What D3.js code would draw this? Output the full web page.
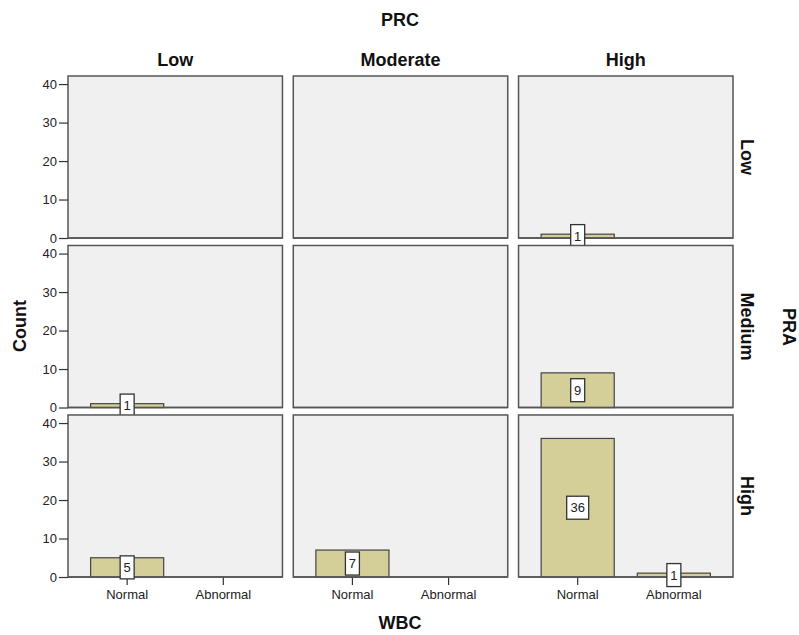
<!DOCTYPE html>
<html><head><meta charset="utf-8">
<script src="https://cdn.jsdelivr.net/npm/d3@7"></script>
<style>
body{margin:0;background:#fff;}
text{font-family:"Liberation Sans",Arial,sans-serif;}
</style></head>
<body>
<svg id="chart" width="799" height="635"></svg>
<script>
const colCats = ["Low","Moderate","High"];      // PRC
const rowCats = ["Low","Medium","High"];        // PRA
const wbcCats = ["Normal","Abnormal"];          // WBC
// counts[row][col] = [Normal, Abnormal]
const countsLowPRA    = [[0,0],[0,0],[1,0]];
const countsMediumPRA = [[1,0],[0,0],[9,0]];
const countsHighPRA   = [[5,0],[7,0],[36,1]];
const counts = [countsLowPRA, countsMediumPRA, countsHighPRA];
const yTicks = [0,10,20,30,40];

const svg = d3.select("#chart");
const colScale = d3.scaleBand().domain(colCats).range([68,733]).paddingInner(0.048);
const rowScale = d3.scaleBand().domain(rowCats).range([76,577]).paddingInner(0.044);
const pw = colScale.bandwidth(), ph = rowScale.bandwidth();
const xScale = d3.scaleBand().domain(wbcCats).range([0,pw]).paddingInner(0.24).paddingOuter(0.235);
const yScale = d3.scaleLinear().domain([0,42.1]).range([ph,0]);

const barFill = "#d4cf99", dark = "#444";
const FONT = "'Liberation Sans',Arial,sans-serif";

rowCats.forEach((r,ri)=>{
  colCats.forEach((c,ci)=>{
    const g = svg.append("g").attr("transform",`translate(${colScale(c)},${rowScale(r)})`);
    g.append("rect").attr("x",0).attr("y",0).attr("width",pw).attr("height",ph)
      .attr("fill","#f0f0f0").attr("stroke","#555").attr("stroke-width",1.5);
    const vals = counts[ri][ci];
    const data = wbcCats.map((w,i)=>({w, v:vals[i]})).filter(d=>d.v>0);
    if (ri===rowCats.length-1){
      const ax = g.append("g").attr("transform",`translate(0,${ph})`)
        .call(d3.axisBottom(xScale).tickSize(8).tickSizeOuter(0).tickPadding(5));
      ax.select(".domain").remove();
      ax.selectAll("line").attr("stroke","#333").attr("stroke-width",1.2);
      ax.selectAll("text").attr("font-size",13).attr("fill","#222").attr("font-family",FONT);
    }
    if (ci===0){
      const ay = g.append("g").call(d3.axisLeft(yScale).tickValues(yTicks).tickSize(9).tickSizeOuter(0).tickPadding(2));
      ay.select(".domain").remove();
      ay.selectAll("line").attr("stroke","#333").attr("stroke-width",1.2);
      ay.selectAll("text").attr("font-size",13).attr("fill","#222").attr("font-family",FONT);
    }
    g.selectAll("rect.bar").data(data).enter().append("rect").attr("class","bar")
      .attr("x",d=>xScale(d.w)).attr("width",xScale.bandwidth())
      .attr("y",d=>yScale(d.v)).attr("height",d=>ph-yScale(d.v))
      .attr("fill",barFill).attr("stroke",dark).attr("stroke-width",1.2);
    g.append("line").attr("x1",0).attr("x2",pw).attr("y1",ph).attr("y2",ph)
      .attr("stroke","#555").attr("stroke-width",1.5);
    data.forEach(d=>{
      const cx = xScale(d.w)+xScale.bandwidth()/2;
      const cy = (yScale(d.v)+ph)/2;
      const txt = String(d.v);
      const bw = txt.length===1 ? 14 : 22;
      g.append("rect").attr("x",cx-bw/2).attr("y",cy-11.5).attr("width",bw).attr("height",23)
        .attr("fill","#fff").attr("stroke","#333").attr("stroke-width",1.3);
      g.append("text").attr("x",cx).attr("y",cy).attr("dy","0.36em").attr("text-anchor","middle")
        .attr("font-size",13).attr("fill","#222").text(txt);
    });
  });
});

function title(x,y,rot,txt){
  svg.append("text").attr("transform",`translate(${x},${y}) rotate(${rot})`)
    .attr("text-anchor","middle").attr("dy", rot===0 ? 0 : "0.35em")
    .attr("font-size",18).attr("font-weight","bold").attr("fill","#111").text(txt);
}
colCats.forEach(c=> title(colScale(c)+pw/2, 66, 0, c));
rowCats.forEach(r=> title(747, rowScale(r)+ph/2, 90, r));
title(400, 26, 0, "PRC");
title(789, 327, 90, "PRA");
title(20, 326, -90, "Count");
title(400, 629, 0, "WBC");
</script>
</body></html>
